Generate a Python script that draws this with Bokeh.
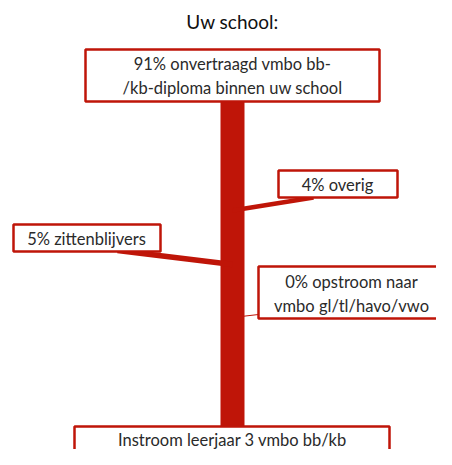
from bokeh.plotting import figure
from bokeh.models import Range1d, ColumnDataSource
from bokeh.core.properties import value
from bokeh.embed import file_html
from bokeh.resources import INLINE

# ---- data ----
title_text = "Uw school:"
inflow_label = "Instroom leerjaar 3 vmbo bb/kb"
branch_labels = [
    "91% onvertraagd vmbo bb-\n/kb-diploma binnen uw school",
    "4% overig",
    "5% zittenblijvers",
    "0% opstroom naar\nvmbo gl/tl/havo/vwo",
]
branch_pct = [91, 4, 5, 0]

# ---- layout (pixel coordinates from the top-left corner) ----
RED = "#bf1508"
FONT = "Lato"
W, H = 436, 449
# boxes: left, right, top, bottom
boxes = {
    "top": (85, 379, 49, 101),
    "overig": (278, 397, 170, 197),
    "zitten": (13, 160, 224, 251),
    "opstroom": (258, 460, 266, 318),
    "instroom": (74, 389, 426, 480),
}
# text centres
text_pos = {
    "top": (232, 75),
    "overig": (337, 184),
    "zitten": (86, 238),
    "opstroom": (351, 293),
    "instroom": (232, 439),
}
# connector lines: bar centre -> box edge
conn = {
    "overig": ((232, 210), (313, 197)),
    "zitten": ((232, 264), (117, 250)),
    "opstroom": ((232, 317), (258, 314)),
}

p = figure(width=W, height=H, output_backend="svg", toolbar_location=None,
           x_range=Range1d(0, W), y_range=Range1d(H, 0),
           min_border=0, outline_line_color=None)
p.axis.visible = False
p.grid.visible = False
p.background_fill_color = "white"
p.border_fill_color = "white"

# main flow bar
p.quad(left=[220], right=[244], top=[101], bottom=[boxes["instroom"][2]],
       fill_color=RED, line_color=None)

# branch connectors, width from percentage
keys = ["overig", "zitten", "opstroom"]
pcts = branch_pct[1:]
src = ColumnDataSource(dict(
    x0=[conn[k][0][0] for k in keys], y0=[conn[k][0][1] for k in keys],
    x1=[conn[k][1][0] for k in keys], y1=[conn[k][1][1] for k in keys],
    w=[max(1, v * 1.1) for v in pcts]))
p.segment("x0", "y0", "x1", "y1", source=src, line_color=RED, line_width="w")

# boxes
bk = ["top", "overig", "zitten", "opstroom", "instroom"]
p.quad(left=[boxes[k][0] for k in bk], right=[boxes[k][1] for k in bk],
       top=[boxes[k][2] for k in bk], bottom=[boxes[k][3] for k in bk],
       fill_color="white", line_color=RED, line_width=2.5)

# texts
texts = [branch_labels[0], branch_labels[1], branch_labels[2], branch_labels[3], inflow_label]
p.text(x=[text_pos[k][0] for k in bk], y=[text_pos[k][1] for k in bk], text=texts,
       text_font=value(FONT), text_font_size="16.5px", text_color="#2a2a2a",
       text_align="center", text_baseline="middle", text_line_height=1.2)

# title
p.text(x=[232], y=[21], text=[title_text], text_font=value(FONT),
       text_font_size="19px", text_color="#111111",
       text_align="center", text_baseline="middle")

open("out.html", "w").write(file_html(p, INLINE))
